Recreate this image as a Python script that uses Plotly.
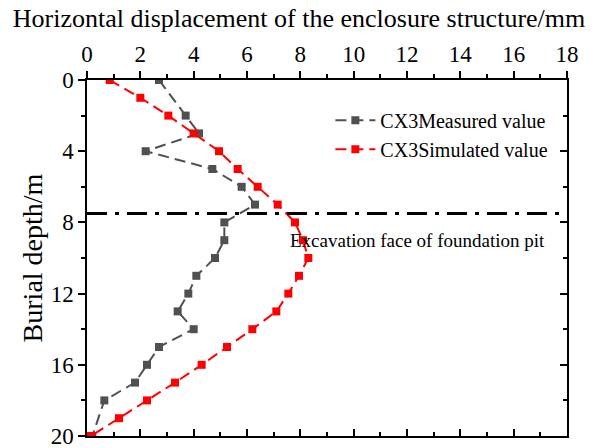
import plotly.graph_objects as go

# Depth (m) and horizontal displacement (mm) readings for inclinometer CX3
measured_depth = [0, 2, 3, 4, 5, 6, 7, 8, 9, 10, 11, 12, 13, 14, 15, 16, 17, 18, 20]
measured_disp = [2.7, 3.7, 4.2, 2.2, 4.7, 5.8, 6.3, 5.15, 5.15, 4.8, 4.1, 3.8, 3.4, 4.0, 2.7, 2.25, 1.8, 0.65, 0.2]

simulated_depth = [0, 1, 2, 3, 4, 5, 6, 7, 8, 9, 10, 11, 12, 13, 14, 15, 16, 17, 18, 19, 20]
simulated_disp = [0.85, 2.0, 3.05, 4.0, 4.95, 5.65, 6.4, 7.15, 7.8, 8.1, 8.3, 7.95, 7.55, 7.1, 6.2, 5.25, 4.3, 3.3, 2.25, 1.2, 0.15]

excavation_depth = 7.5
x_range = [0, 18]
y_range = [20, 0]

SERIF = "Liberation Serif"

fig = go.Figure()

fig.add_trace(go.Scatter(
    x=measured_disp, y=measured_depth, mode="lines+markers",
    name="CX3Measured value",
    line=dict(color="#505050", width=2, dash="11px,6px"),
    marker=dict(symbol="square", size=8, color="#505050"),
))
fig.add_trace(go.Scatter(
    x=simulated_disp, y=simulated_depth, mode="lines+markers",
    name="CX3Simulated value",
    line=dict(color="#ff0000", width=2, dash="11px,6px"),
    marker=dict(symbol="square", size=8, color="#ff0000"),
))

# Excavation face reference line
fig.add_trace(go.Scatter(
    x=x_range, y=[excavation_depth, excavation_depth], mode="lines",
    line=dict(color="black", width=3, dash="20px,8px,4px,8px"),
    showlegend=False, hoverinfo="skip",
))

# Invisible trace so the mirrored (inward-tick) axes are drawn
fig.add_trace(go.Scatter(
    x=[None], y=[None], xaxis="x2", yaxis="y2", showlegend=False, hoverinfo="skip",
))

fig.add_annotation(
    x=7.55, y=9.0, xref="x", yref="y", text="Excavation face of foundation pit",
    showarrow=False, xanchor="left", yanchor="middle",
    font=dict(family=SERIF, size=19, color="black"),
)

axis_common = dict(showgrid=False, zeroline=False, linecolor="black", linewidth=1.5,
                   tickcolor="black", tickwidth=1.5, automargin=False)
tick_font = dict(family=SERIF, size=23, color="black")

fig.update_layout(
    width=598, height=448,
    margin=dict(l=87, r=31, t=80, b=12),
    paper_bgcolor="white", plot_bgcolor="white",
    font=dict(family=SERIF, color="black"),
    title=dict(text="Horizontal displacement of the enclosure structure/mm",
               font=dict(family=SERIF, size=26, color="black"),
               xref="container", x=0.5, xanchor="center",
               yref="container", y=0.98, yanchor="top", pad=dict(t=0, b=0)),
    showlegend=True,
    legend=dict(x=0.507, y=0.942, xanchor="left", yanchor="top",
                bgcolor="rgba(0,0,0,0)", font=dict(family=SERIF, size=20),
                tracegroupgap=0, itemwidth=40),
    xaxis=dict(
        **axis_common, range=x_range, side="top", dtick=2, tick0=0,
        ticks="outside", ticklen=7, tickfont=tick_font, ticklabeloverflow="allow",
        minor=dict(dtick=1, ticks="outside", ticklen=4, tickcolor="black", tickwidth=1.5),
        anchor="y",
    ),
    yaxis=dict(
        **axis_common, range=y_range, dtick=4, tick0=0,
        ticks="outside", ticklen=7, tickfont=tick_font, ticklabeloverflow="allow",
        minor=dict(dtick=2, ticks="outside", ticklen=4, tickcolor="black", tickwidth=1.5),
        title=dict(text="Burial depth/m", font=dict(family=SERIF, size=28, color="black"),
                   standoff=0),
        anchor="x",
    ),
    xaxis2=dict(
        **axis_common, range=x_range, side="bottom", overlaying="x", anchor="y2",
        dtick=2, tick0=0, ticks="inside", ticklen=7, showticklabels=False,
        minor=dict(dtick=1, ticks="inside", ticklen=4, tickcolor="black", tickwidth=1.5),
    ),
    yaxis2=dict(
        **axis_common, range=y_range, side="right", overlaying="y", anchor="x2",
        dtick=4, tick0=0, ticks="inside", ticklen=7, showticklabels=False,
        minor=dict(dtick=2, ticks="inside", ticklen=4, tickcolor="black", tickwidth=1.5),
    ),
)

fig.write_html("out.html")
